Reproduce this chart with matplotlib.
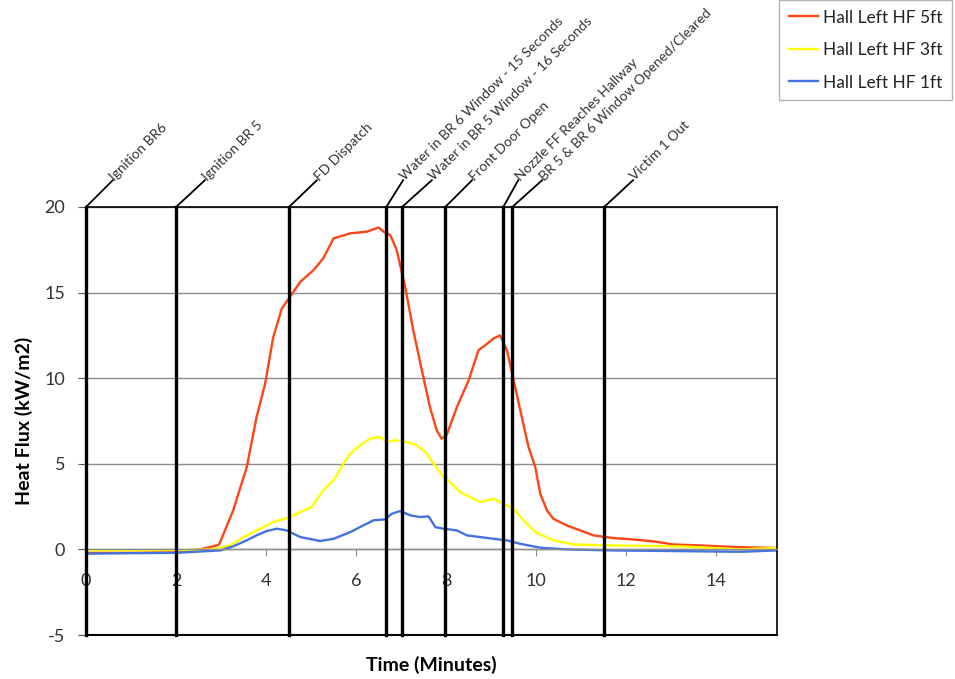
import matplotlib
matplotlib.use("Agg")
import matplotlib.pyplot as plt
import numpy as np

plt.rcParams['font.family'] = ['Lato', 'DejaVu Sans']
plt.rcParams['axes.unicode_minus'] = False

# ---- data ----
t_5ft = [0.0, 1.0, 2.0, 2.53, 2.9, 2.96, 3.27, 3.57, 3.79, 3.98, 4.16, 4.35, 4.53, 4.76,
         5.05, 5.27, 5.5, 5.87, 6.24, 6.5, 6.61, 6.76, 6.9, 7.09, 7.27, 7.46, 7.64,
         7.79, 7.9, 8.01, 8.24, 8.5, 8.72, 8.87, 9.05, 9.2, 9.35, 9.5, 9.68, 9.83,
         9.98, 10.09, 10.24, 10.38, 10.68, 10.98, 11.27, 11.72, 12.16, 12.6, 13.05,
         13.64, 14.39, 15.35]
hf_5ft = [-0.2, -0.2, -0.15, 0.0, 0.23, 0.3, 2.28, 4.8, 7.74, 9.69, 12.4, 14.07, 14.75, 15.63,
          16.3, 17.0, 18.17, 18.46, 18.56, 18.8, 18.56, 18.36, 17.5, 15.34, 12.8, 10.47, 8.32,
          6.96, 6.47, 6.67, 8.32, 9.88, 11.64, 11.93, 12.32, 12.5, 11.64, 9.88, 7.74, 5.98,
          4.81, 3.26, 2.28, 1.79, 1.4, 1.11, 0.82, 0.66, 0.58, 0.47, 0.29,
          0.23, 0.14, 0.08]

t_3ft = [0.0, 1.0, 2.0, 2.8, 3.2, 3.5, 3.79, 4.16, 4.53, 4.76, 5.01, 5.27, 5.5, 5.72, 5.87,
         6.09, 6.31, 6.53, 6.68, 6.87, 7.05, 7.35, 7.57, 7.72, 7.94, 8.01, 8.31, 8.61,
         8.76, 9.05, 9.27, 9.5, 9.72, 9.98, 10.38, 10.83, 11.72, 13.2, 14.53, 15.35]
hf_3ft = [-0.05, -0.05, -0.05, 0.0, 0.23, 0.72, 1.11, 1.6, 1.89, 2.18, 2.47, 3.45, 4.04, 5.01, 5.6,
          6.08, 6.47, 6.57, 6.28, 6.37, 6.33, 6.08, 5.6, 5.01, 4.23, 4.13, 3.35, 2.96,
          2.77, 2.96, 2.67, 2.38, 1.7, 1.01, 0.53, 0.29, 0.23, 0.18, 0.0, 0.08]

t_1ft = [0.0, 1.0, 2.0, 2.98, 3.27, 3.57, 3.79, 4.01, 4.24, 4.46, 4.76, 5.2, 5.5, 5.87, 6.16,
         6.39, 6.64, 6.79, 6.98, 7.2, 7.42, 7.61, 7.76, 7.94, 8.24, 8.46, 9.05, 9.35,
         9.64, 10.09, 10.68, 11.72, 13.2, 14.53, 15.35]
hf_1ft = [-0.25, -0.22, -0.2, -0.06, 0.18, 0.53, 0.82, 1.07, 1.21, 1.11, 0.72, 0.49, 0.62, 1.01, 1.4,
          1.7, 1.75, 2.08, 2.24, 1.99, 1.89, 1.93, 1.3, 1.21, 1.11, 0.82, 0.62, 0.53,
          0.33, 0.1, 0.0, -0.06, -0.1, -0.14, -0.06]

event_times = [0.0, 2.0, 4.51, 6.67, 7.02, 7.98, 9.27, 9.47, 11.51]
event_labels = ["Ignition BR6", "Ignition BR 5", "FD Dispatch",
                "Water in BR 6 Window - 15 Seconds", "Water in BR 5 Window - 16 Seconds",
                "Front Door Open", "Nozzle FF Reaches Hallway",
                "BR 5 & BR 6 Window Opened/Cleared", "Victim 1 Out"]
leader_dx = [19.4, 20.9, 20.2, 12.2, 21.6, 19.4, 10.8, 21.6, 20.9]

series_labels = ["Hall Left HF 5ft", "Hall Left HF 3ft", "Hall Left HF 1ft"]
series_colors = ["#FF4515", "#FFFF00", "#4472E0"]
x_ticks = [0, 2, 4, 6, 8, 10, 12, 14]
y_ticks = [-5, 0, 5, 10, 15, 20]

# ---- figure ----
fig = plt.figure(figsize=(9.55, 6.79), dpi=100)
ax = fig.add_axes([86/955, 44/679, (777-86)/955, (635-207)/679])

lines = []
for t, v, lab, c in zip([t_5ft, t_3ft, t_1ft], [hf_5ft, hf_3ft, hf_1ft], series_labels, series_colors):
    ln, = ax.plot(t, v, color=c, lw=1.7, label=lab, zorder=2)
    lines.append(ln)

ax.set_xlim(0, 15.35)
ax.set_ylim(-5, 20)
ax.set_xticks(x_ticks)
ax.set_yticks(y_ticks)

ax.yaxis.grid(True, color='#8c8c8c', lw=1.0, zorder=0)
ax.set_axisbelow(True)

ax.spines['bottom'].set_position(('data', 0))
ax.spines['bottom'].set_color('#8c8c8c')
ax.spines['bottom'].set_linewidth(1.0)
for s in ['left', 'top', 'right']:
    ax.spines[s].set_color('black')
    ax.spines[s].set_linewidth(1.2)
ax.axhline(-5, color='black', lw=1.5, clip_on=False, zorder=3)

ax.tick_params(axis='x', direction='out', length=5, color='#8c8c8c', pad=12, labelsize=13, labelcolor='#333333')
ax.tick_params(axis='y', direction='out', length=6, color='#555555', pad=9, labelsize=13, labelcolor='#333333')

for t, lab, dx in zip(event_times, event_labels, leader_dx):
    ax.axvline(t, color='black', lw=2.4, zorder=4, clip_on=False)
    ax.annotate('', xy=(t, 20), xytext=(dx, 19.4), textcoords='offset points',
                arrowprops=dict(arrowstyle='-', lw=1.3, color='black', shrinkA=0, shrinkB=0),
                annotation_clip=False)
    ax.annotate(lab, xy=(t, 20), xytext=(dx + 1.5, 18.4), textcoords='offset points',
                rotation=45, rotation_mode='anchor', ha='left', va='baseline',
                fontsize=10, color='#333333', annotation_clip=False)

ax.set_xlabel("Time (Minutes)", fontsize=14, fontweight='bold')
ax.set_ylabel("Heat Flux (kW/m2)", fontsize=14, fontweight='bold')
ax.xaxis.set_label_coords(0.5, -0.05)
ax.yaxis.set_label_coords(-0.077, 0.5)

leg = fig.legend(handles=lines, labels=series_labels, loc='upper left',
                 bbox_to_anchor=(779/955, 1.0), frameon=True, fancybox=False,
                 edgecolor='#a0a0a0', fontsize=12.5, handlelength=1.7, handletextpad=0.3,
                 labelspacing=0.95, borderpad=0.55, borderaxespad=0)
leg.get_frame().set_linewidth(1.0)
for txt in leg.get_texts():
    txt.set_color('#222222')

fig.savefig("out.png", dpi=100)
